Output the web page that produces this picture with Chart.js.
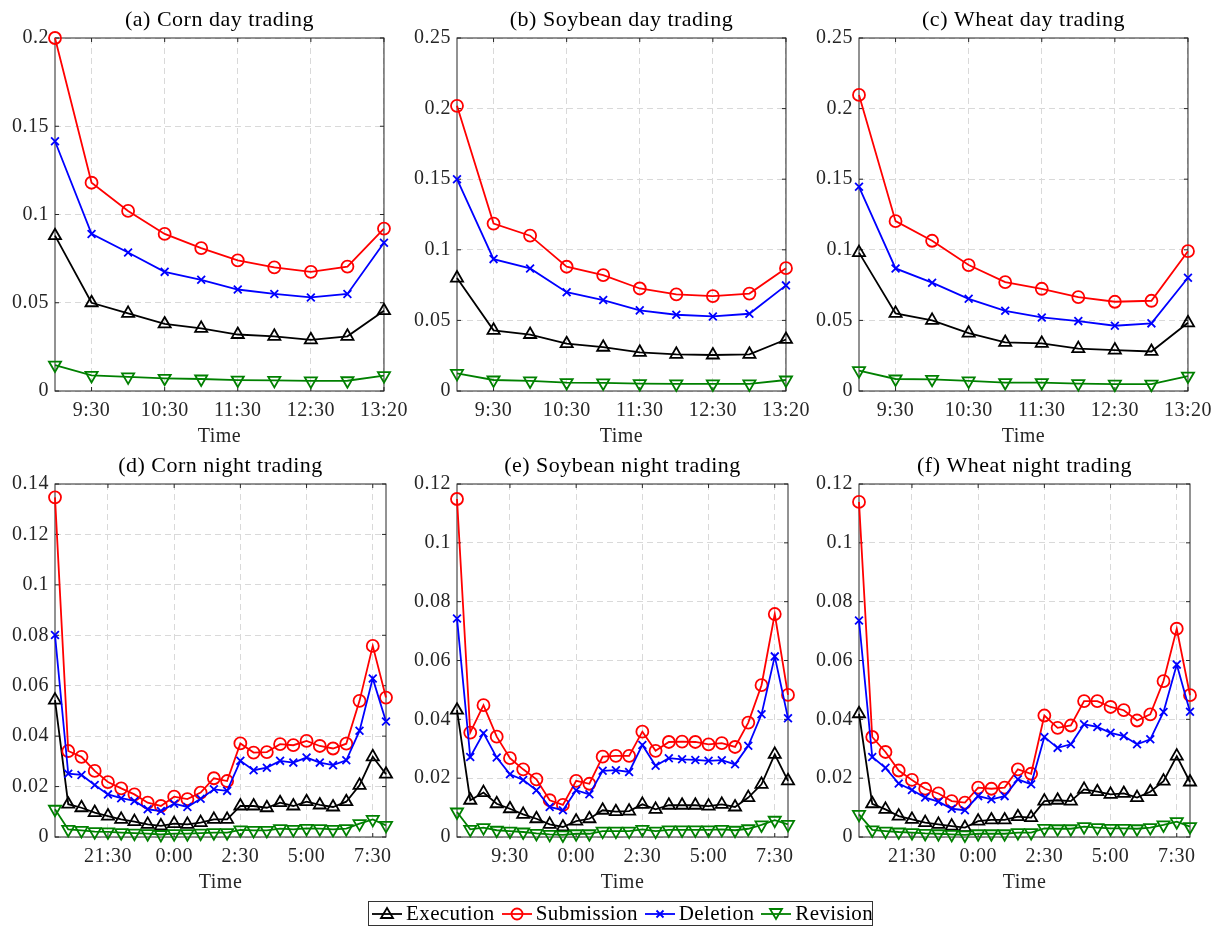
<!DOCTYPE html>
<html lang="en">
<head>
    <meta charset="UTF-8">
    <title>Order activity by time of day</title>
    <script src="https://cdn.jsdelivr.net/npm/chart.js"></script>
    <style>
        body {
            margin: 0;
            background-color: #ffffff;
            overflow: hidden;
            font-family: "Liberation Serif", "DejaVu Serif", serif;
        }
        canvas {
            position: absolute;
        }
        #legend {
            position: absolute;
            left: 368px;
            top: 901px;
            width: 503px;
            height: 23px;
            border: 1px solid #333;
            background: #fff;
            display: flex;
            align-items: center;
            font-size: 21px;
            letter-spacing: 0.4px;
            color: #000;
            white-space: nowrap;
        }
        #legend span {
            display: flex;
            align-items: center;
            margin-left: 6px;
        }
        #legend span:first-child {
            margin-left: 2px;
        }
        #legend svg {
            margin-right: 3px;
        }
    </style>
</head>
<body>
    <canvas id="c0" width="416" height="451" style="left:0px;top:0px"></canvas>
    <canvas id="c1" width="416" height="451" style="left:402px;top:0px"></canvas>
    <canvas id="c2" width="416" height="451" style="left:804px;top:0px"></canvas>
    <canvas id="c3" width="416" height="451" style="left:0px;top:446px"></canvas>
    <canvas id="c4" width="416" height="451" style="left:402px;top:446px"></canvas>
    <canvas id="c5" width="416" height="451" style="left:804px;top:446px"></canvas>
    <div id="legend"></div>

    <script>
        const seriesNames = ['Execution', 'Submission', 'Deletion', 'Revision'];

        const dayTickPos = [1, 3, 5, 7, 9];
        const dayTickLabels = ['9:30', '10:30', '11:30', '12:30', '13:20'];
        const nightTickPos = [4, 9, 14, 19, 24];
        const nightTickLabels = ['21:30', '0:00', '2:30', '5:00', '7:30'];
        // panel (e) is labelled this way in the original figure
        const soyNightTickLabels = ['9:30', '0:00', '2:30', '5:00', '7:30'];

        const panelTitles = ['(a) Corn day trading', '(b) Soybean day trading', '(c) Wheat day trading',
                             '(d) Corn night trading', '(e) Soybean night trading', '(f) Wheat night trading'];
        const panelTickLabels = [dayTickLabels, dayTickLabels, dayTickLabels,
                                 nightTickLabels, soyNightTickLabels, nightTickLabels];
        const panelYMax = [0.2, 0.25, 0.25, 0.14, 0.12, 0.12];
        const panelYStep = [0.05, 0.05, 0.05, 0.02, 0.02, 0.02];

        // day sessions, 10 points
        const cornDayExecution = [0.088, 0.050, 0.044, 0.038, 0.0355, 0.032, 0.031, 0.029, 0.031, 0.0455];
        const cornDaySubmission = [0.200, 0.118, 0.102, 0.089, 0.081, 0.074, 0.070, 0.0675, 0.0705, 0.092];
        const cornDayDeletion = [0.1415, 0.089, 0.0785, 0.0675, 0.063, 0.0575, 0.055, 0.053, 0.055, 0.084];
        const cornDayRevision = [0.0147, 0.0088, 0.008, 0.0072, 0.0068, 0.0062, 0.006, 0.0057, 0.0058, 0.0087];

        const soyDayExecution = [0.080, 0.043, 0.040, 0.0335, 0.031, 0.0274, 0.026, 0.0255, 0.026, 0.0365];
        const soyDaySubmission = [0.202, 0.1186, 0.110, 0.088, 0.082, 0.0726, 0.0684, 0.0672, 0.069, 0.087];
        const soyDayDeletion = [0.150, 0.0934, 0.0868, 0.070, 0.0644, 0.0571, 0.054, 0.0528, 0.0547, 0.0748];
        const soyDayRevision = [0.0125, 0.0078, 0.0071, 0.006, 0.0057, 0.0052, 0.005, 0.005, 0.005, 0.0078];

        const wheatDayExecution = [0.098, 0.055, 0.050, 0.041, 0.0344, 0.0337, 0.030, 0.029, 0.028, 0.0483];
        const wheatDaySubmission = [0.2097, 0.1203, 0.1064, 0.0892, 0.0771, 0.0724, 0.0665, 0.0632, 0.0639, 0.099];
        const wheatDayDeletion = [0.1446, 0.0868, 0.0767, 0.0653, 0.0568, 0.0521, 0.0495, 0.0462, 0.0479, 0.0802];
        const wheatDayRevision = [0.0144, 0.0085, 0.0083, 0.0071, 0.006, 0.006, 0.0052, 0.0048, 0.0048, 0.0106];

        // night sessions, 26 points
        const cornNightExecution = [0.0543, 0.013, 0.0116, 0.0097, 0.0083, 0.007, 0.0061, 0.005, 0.0044, 0.0053, 0.005, 0.0057, 0.007,
                                    0.007, 0.0123, 0.0123, 0.0116, 0.0136, 0.0123, 0.014, 0.0127, 0.0119, 0.014, 0.0205, 0.0318, 0.0249];
        const cornNightSubmission = [0.1347, 0.0341, 0.0318, 0.0262, 0.0218, 0.0193, 0.0169, 0.0136, 0.0123, 0.016, 0.015, 0.0176, 0.0233,
                                     0.0222, 0.0371, 0.0335, 0.0337, 0.0368, 0.0364, 0.0381, 0.0361, 0.0351, 0.037, 0.054, 0.0758, 0.0553];
        const cornNightDeletion = [0.0801, 0.0251, 0.0246, 0.0206, 0.0169, 0.0154, 0.0143, 0.011, 0.0103, 0.0132, 0.0119, 0.0152, 0.0189,
                                   0.0183, 0.0302, 0.0265, 0.0275, 0.0302, 0.0295, 0.0315, 0.0295, 0.0285, 0.0304, 0.0421, 0.0629, 0.0458];
        const cornNightRevision = [0.011, 0.003, 0.0026, 0.0021, 0.002, 0.0017, 0.0015, 0.0013, 0.001, 0.0013, 0.0013, 0.0015, 0.0017,
                                   0.0017, 0.0028, 0.0026, 0.0026, 0.0033, 0.003, 0.0034, 0.0033, 0.003, 0.0033, 0.0053, 0.007, 0.0046];

        const soyNightExecution = [0.0431, 0.0125, 0.0151, 0.0113, 0.0096, 0.0077, 0.0062, 0.0043, 0.0034, 0.0054, 0.0062, 0.0091, 0.0086,
                                   0.0088, 0.0111, 0.0094, 0.0108, 0.0108, 0.0108, 0.0105, 0.0111, 0.0102, 0.0134, 0.0179, 0.0281, 0.0191];
        const soyNightSubmission = [0.1149, 0.0355, 0.0448, 0.0341, 0.0268, 0.023, 0.0196, 0.0125, 0.0109, 0.0191, 0.0181, 0.0273, 0.0276,
                                    0.0276, 0.0358, 0.0293, 0.0323, 0.0324, 0.0323, 0.0315, 0.0319, 0.0306, 0.0389, 0.0516, 0.0758, 0.0483];
        const soyNightDeletion = [0.0743, 0.0272, 0.0353, 0.027, 0.0213, 0.0194, 0.0159, 0.0102, 0.0091, 0.0159, 0.0145, 0.0225, 0.0227,
                                  0.0221, 0.0313, 0.0242, 0.0268, 0.0264, 0.0262, 0.0259, 0.0261, 0.0247, 0.031, 0.0417, 0.0614, 0.0404];
        const soyNightRevision = [0.0085, 0.0026, 0.0032, 0.0023, 0.002, 0.0017, 0.0012, 0.0009, 0.0007, 0.0011, 0.0011, 0.002, 0.002,
                                  0.002, 0.0026, 0.002, 0.0024, 0.0024, 0.0024, 0.0024, 0.0026, 0.0023, 0.0028, 0.0041, 0.0057, 0.0043];

        const wheatNightExecution = [0.0419, 0.0113, 0.0094, 0.0071, 0.006, 0.0049, 0.0043, 0.0037, 0.0032, 0.0054, 0.0058, 0.0058, 0.0069,
                                     0.0066, 0.0122, 0.0125, 0.0122, 0.0162, 0.0154, 0.0145, 0.0148, 0.0134, 0.0154, 0.019, 0.0275, 0.0187];
        const wheatNightSubmission = [0.1139, 0.034, 0.0289, 0.0226, 0.0194, 0.0164, 0.0148, 0.0122, 0.0117, 0.0168, 0.0164, 0.0168, 0.023,
                                      0.0215, 0.0413, 0.0371, 0.0379, 0.0462, 0.0462, 0.0442, 0.0431, 0.0396, 0.0417, 0.053, 0.0708, 0.0482];
        const wheatNightDeletion = [0.0736, 0.0272, 0.0235, 0.0182, 0.016, 0.0134, 0.012, 0.0096, 0.0091, 0.0139, 0.0128, 0.0139, 0.0196,
                                    0.0179, 0.034, 0.0303, 0.0315, 0.0383, 0.0374, 0.0354, 0.0343, 0.0315, 0.0332, 0.0425, 0.0586, 0.0426];
        const wheatNightRevision = [0.0077, 0.0024, 0.002, 0.0017, 0.0015, 0.0012, 0.0011, 0.0009, 0.0007, 0.0011, 0.0011, 0.0011, 0.0015,
                                    0.0015, 0.0029, 0.0028, 0.0028, 0.0035, 0.0032, 0.0029, 0.0029, 0.0028, 0.0032, 0.0041, 0.0052, 0.0035];

        const panelSeries = [
            [cornDayExecution, cornDaySubmission, cornDayDeletion, cornDayRevision],
            [soyDayExecution, soyDaySubmission, soyDayDeletion, soyDayRevision],
            [wheatDayExecution, wheatDaySubmission, wheatDayDeletion, wheatDayRevision],
            [cornNightExecution, cornNightSubmission, cornNightDeletion, cornNightRevision],
            [soyNightExecution, soyNightSubmission, soyNightDeletion, soyNightRevision],
            [wheatNightExecution, wheatNightSubmission, wheatNightDeletion, wheatNightRevision]
        ];

        const seriesColors = ['#000000', '#ff0000', '#0000ff', '#008000'];
        const seriesMarkers = ['triangle', 'circle', 'crossRot', 'triangle'];
        const markerRadius = [7, 6, 5.5, 7];
        const markerRotation = [0, 0, 0, 180];

        const FONT = '"Liberation Serif", "DejaVu Serif", serif';
        const AXIS = '#262626';
        Chart.defaults.font.family = FONT;
        Chart.defaults.font.size = 20;
        Chart.defaults.color = AXIS;

        // slightly wider text, closer to the LaTeX look of the original
        const spacingPlugin = {
            id: 'spacing',
            beforeUpdate(chart) { chart.ctx.letterSpacing = '0.5px'; },
            beforeDraw(chart) { chart.ctx.letterSpacing = '0.5px'; }
        };

        // MATLAB style box with inward ticks
        const boxPlugin = {
            id: 'box',
            beforeDatasetsDraw(chart) {
                const {ctx, chartArea: a, scales: {x, y}} = chart;
                ctx.save();
                ctx.strokeStyle = AXIS;
                ctx.lineWidth = 1;
                ctx.strokeRect(a.left, a.top, a.right - a.left, a.bottom - a.top);
                ctx.beginPath();
                x.ticks.forEach(t => {
                    const px = x.getPixelForValue(t.value);
                    ctx.moveTo(px, a.bottom); ctx.lineTo(px, a.bottom - 4);
                    ctx.moveTo(px, a.top); ctx.lineTo(px, a.top + 4);
                });
                y.ticks.forEach(t => {
                    const py = y.getPixelForValue(t.value);
                    ctx.moveTo(a.left, py); ctx.lineTo(a.left + 4, py);
                    ctx.moveTo(a.right, py); ctx.lineTo(a.right - 4, py);
                });
                ctx.stroke();
                ctx.restore();
            }
        };

        function makeChart(p) {
            const night = p >= 3;
            const tickPos = night ? nightTickPos : dayTickPos;
            const tickLabels = panelTickLabels[p];
            const datasets = panelSeries[p].map((vals, k) => ({
                label: seriesNames[k],
                data: vals.map((v, i) => ({x: i, y: v})),
                borderColor: seriesColors[k],
                borderWidth: 1.8,
                pointStyle: seriesMarkers[k],
                pointRadius: markerRadius[k],
                pointRotation: markerRotation[k],
                pointBorderColor: seriesColors[k],
                pointBackgroundColor: 'rgba(0,0,0,0)',
                pointBorderWidth: 1.8,
                order: 4 - k,
                clip: false,
                tension: 0
            }));

            new Chart(document.getElementById('c' + p), {
                type: 'line',
                data: {datasets: datasets},
                plugins: [spacingPlugin, boxPlugin],
                options: {
                    responsive: false,
                    animation: false,
                    layout: {padding: {left: 0, right: 30, top: 0, bottom: 0}},
                    plugins: {
                        legend: {display: false},
                        tooltip: {enabled: false},
                        title: {
                            display: true,
                            fullSize: false,
                            text: panelTitles[p],
                            color: '#000',
                            font: {size: 22, weight: 'normal'},
                            padding: {top: 7, bottom: 4.6}
                        }
                    },
                    scales: {
                        x: {
                            type: 'linear',
                            min: 0,
                            max: night ? 25 : 9,
                            afterBuildTicks: s => { s.ticks = tickPos.map(v => ({value: v})); },
                            afterFit: s => { s.height = 60; },
                            ticks: {
                                autoSkip: false,
                                maxRotation: 0,
                                padding: 8,
                                callback: (v, i) => tickLabels[i]
                            },
                            grid: {color: '#d9d9d9', drawTicks: false},
                            border: {display: false, dash: [6, 4]},
                            title: {display: true, text: 'Time', color: AXIS, padding: {top: 0, bottom: 2}}
                        },
                        y: {
                            min: 0,
                            max: panelYMax[p],
                            afterFit: s => { s.width = 55; },
                            ticks: {
                                stepSize: panelYStep[p],
                                padding: 6,
                                callback: v => String(parseFloat(v.toFixed(3)))
                            },
                            grid: {color: '#d9d9d9', drawTicks: false},
                            border: {display: false, dash: [6, 4]}
                        }
                    }
                }
            });
        }

        for (let p = 0; p < 6; p++) makeChart(p);

        // legend: short line with the marker in its middle, then the name
        const iconShapes = [
            '<polygon points="16,2 22,12 10,12" fill="none" stroke="#000" stroke-width="1.8"/>',
            '<circle cx="16" cy="8" r="5.5" fill="none" stroke="#ff0000" stroke-width="1.8"/>',
            '<path d="M12.5,4.5 L19.5,11.5 M19.5,4.5 L12.5,11.5" stroke="#0000ff" stroke-width="1.8"/>',
            '<polygon points="16,13 22,3 10,3" fill="none" stroke="#008000" stroke-width="1.8"/>'
        ];
        const legend = document.getElementById('legend');
        seriesNames.forEach((name, k) => {
            const item = document.createElement('span');
            item.innerHTML = '<svg width="32" height="16"><line x1="1" y1="8" x2="31" y2="8" stroke="' +
                seriesColors[k] + '" stroke-width="1.8"/>' + iconShapes[k] + '</svg>' + name;
            legend.appendChild(item);
        });
    </script>
</body>
</html>
